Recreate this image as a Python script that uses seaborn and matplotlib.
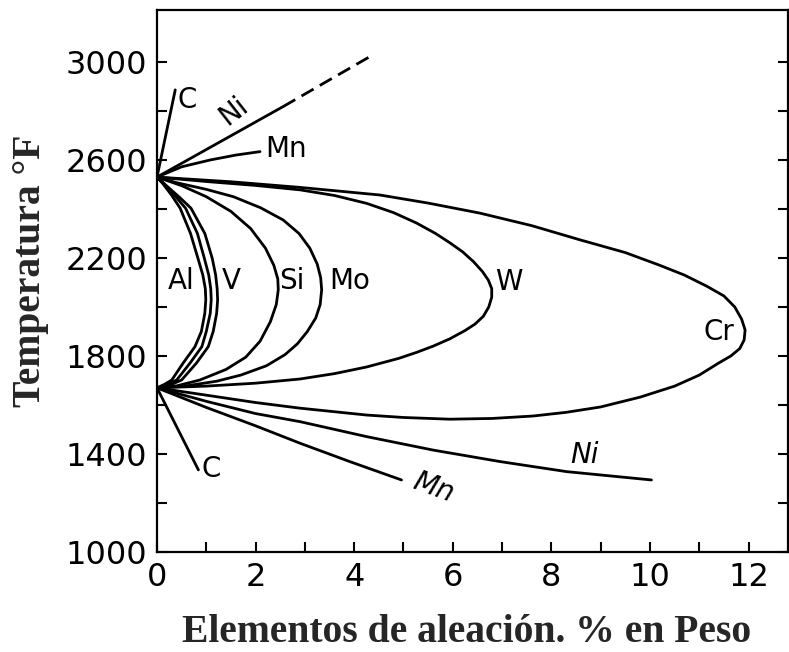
import pandas as pd
import matplotlib
matplotlib.use("Agg")
import matplotlib.pyplot as plt
from matplotlib.ticker import FixedLocator
import seaborn as sns

# Austenite (gamma) field boundaries: alloy content in wt % vs temperature in °F
c_up_x = [0.0, 0.37]
c_up_t = [2530, 2886]

ni_up_x = [0.0, 2.56]
ni_up_t = [2530, 2818]
ni_dash_x = [2.56, 4.32]
ni_dash_t = [2818, 3022]

mn_up_x = [0.0, 0.5, 1.08, 1.6, 2.09]
mn_up_t = [2530, 2572, 2600, 2620, 2634]

al_x = [0.0, 0.12, 0.3, 0.47, 0.68, 0.83, 0.93, 0.98, 0.99, 0.97, 0.9, 0.77, 0.53, 0.3, 0.15, 0.0]
al_t = [2530, 2503, 2455, 2403, 2300, 2199, 2130, 2075, 2030, 1974, 1900, 1838, 1771, 1702, 1684,
        1670]

mid_x = [0.0, 0.15, 0.38, 0.58, 0.82, 0.96, 1.05, 1.09, 1.1, 1.08, 1.0, 0.91, 0.67, 0.4, 0.2, 0.0]
mid_t = [2530, 2500, 2450, 2403, 2300, 2199, 2130, 2075, 2030, 1974, 1900, 1838, 1771, 1702, 1682,
         1670]

v_x = [0.0, 0.18, 0.46, 0.69, 0.97, 1.12, 1.19, 1.22, 1.23, 1.21, 1.14, 1.04, 0.8, 0.5, 0.25, 0.0]
v_t = [2530, 2497, 2447, 2403, 2300, 2199, 2130, 2075, 2030, 1974, 1900, 1838, 1771, 1702, 1680,
       1670]

si_x = [0.0, 0.5, 1.0, 1.5, 1.9, 2.2, 2.37, 2.45, 2.46, 2.42, 2.3, 2.09, 1.8, 1.4, 0.87, 0.4, 0.0]
si_t = [2530, 2495, 2450, 2390, 2320, 2240, 2170, 2115, 2070, 2010, 1940, 1860, 1795, 1745, 1702,
        1678, 1670]

mo_x = [0.0, 0.4, 1.0, 1.55, 2.1, 2.56, 2.88, 3.1, 3.25, 3.32, 3.34, 3.31, 3.22, 3.05, 2.85,
        2.6, 2.22, 1.7, 1.21, 0.53, 0.0]
mo_t = [2530, 2507, 2480, 2450, 2405, 2355, 2300, 2240, 2175, 2120, 2070, 2010, 1955, 1900, 1850,
        1806, 1760, 1722, 1697, 1676, 1670]

w_x = [0.0, 1.0, 2.0, 2.9, 3.6, 4.25, 4.8, 5.27, 5.65, 5.94, 6.2, 6.42, 6.6, 6.72, 6.79, 6.79,
       6.73, 6.62, 6.45, 6.25, 5.94, 5.6, 5.27, 4.9, 4.25, 3.6, 2.9, 2.0, 1.0, 0.0]
w_t = [2530, 2512, 2496, 2478, 2455, 2423, 2385, 2342, 2300, 2262, 2225, 2185, 2145, 2110, 2075,
       2040, 2000, 1962, 1930, 1904, 1870, 1840, 1815, 1790, 1755, 1728, 1706, 1689, 1677, 1670]

cr_x = [0.0, 1.5, 2.9, 4.52, 5.5, 6.55, 7.6, 8.58, 9.5, 10.2, 10.7, 11.15, 11.5, 11.72, 11.86,
        11.93, 11.91, 11.82, 11.64, 11.4, 11.0, 10.5, 9.8, 9.0, 8.3, 7.63, 6.8, 5.94, 5.0, 4.25,
        2.9, 2.0, 1.0, 0.0]
cr_t = [2530, 2511, 2488, 2457, 2424, 2383, 2332, 2274, 2222, 2170, 2130, 2085, 2045, 2000, 1950,
        1906, 1865, 1830, 1800, 1772, 1722, 1677, 1632, 1592, 1570, 1555, 1545, 1542, 1549, 1559,
        1587, 1610, 1640, 1670]

c_lo_x = [0.0, 0.84]
c_lo_t = [1670, 1335]

ni_lo_x = [0.0, 1.0, 2.0, 2.9, 4.25, 5.6, 6.96, 8.31, 10.03]
ni_lo_t = [1670, 1615, 1565, 1532, 1471, 1416, 1369, 1328, 1294]

mn_lo_x = [0.0, 1.0, 2.0, 2.9, 3.91, 4.96]
mn_lo_t = [1670, 1590, 1515, 1444, 1369, 1294]

# axis ticks and labels
x_ticks = [0, 2, 4, 6, 8, 10, 12]
x_minor = [1, 3, 5, 7, 9, 11]
y_ticks = [1000, 1400, 1800, 2200, 2600, 3000]
y_minor = [1200, 1600, 2000, 2400, 2800]

# curve annotations: text, x, T, rotation, style
label_text = ["C", "Ni", "Mn", "Al", "V", "Si", "Mo", "W", "Cr", "C", "Ni", "Mn"]
label_x = [0.62, 1.55, 2.62, 0.48, 1.5, 2.73, 3.9, 7.14, 11.4, 1.1, 8.68, 5.6]
label_t = [2845, 2800, 2645, 2106, 2106, 2106, 2106, 2102, 1898, 1339, 1396, 1262]
label_rot = [0, 38, 0, 0, 0, 0, 0, 0, 0, 0, 0, -20]
label_style = ["normal"] * 10 + ["italic", "italic"]

solid = {
    "C+": (c_up_x, c_up_t), "Ni+": (ni_up_x, ni_up_t), "Mn+": (mn_up_x, mn_up_t),
    "Al": (al_x, al_t), "Al/V": (mid_x, mid_t), "V": (v_x, v_t), "Si": (si_x, si_t),
    "Mo": (mo_x, mo_t), "W": (w_x, w_t), "Cr": (cr_x, cr_t),
    "C-": (c_lo_x, c_lo_t), "Ni-": (ni_lo_x, ni_lo_t), "Mn-": (mn_lo_x, mn_lo_t),
}
rows = []
for name, (xs, ts) in solid.items():
    for i, (xv, tv) in enumerate(zip(xs, ts)):
        rows.append({"curve": name, "order": i, "pct": xv, "temp": tv})
df = pd.DataFrame(rows)
df_dash = pd.DataFrame({"curve": "Ni ext", "pct": ni_dash_x, "temp": ni_dash_t})

sns.set_style("white")
plt.rcParams["font.family"] = ["DejaVu Sans"]
plt.rcParams["lines.solid_joinstyle"] = "round"

W_PX, H_PX, DPI = 789, 652, 100
fig = plt.figure(figsize=(W_PX / DPI, H_PX / DPI), dpi=DPI)
ax = fig.add_axes([157 / W_PX, 100 / H_PX, 631 / W_PX, 542 / H_PX])

sns.lineplot(data=df, x="pct", y="temp", units="curve", estimator=None, sort=False,
             color="black", lw=2.0, ax=ax, legend=False)
sns.lineplot(data=df_dash, x="pct", y="temp", estimator=None, sort=False,
             color="black", lw=2.0, ax=ax, legend=False, linestyle=(0, (5, 2.6)))

for txt, xv, tv, rot, sty in zip(label_text, label_x, label_t, label_rot, label_style):
    ax.text(xv, tv, txt, fontsize=20, ha="center", va="center", rotation=rot,
            style=sty, color="black")

ax.set_xlim(0, 12.8)
ax.set_ylim(1000, 3212)
ax.xaxis.set_major_locator(FixedLocator(x_ticks))
ax.xaxis.set_minor_locator(FixedLocator(x_minor))
ax.yaxis.set_major_locator(FixedLocator(y_ticks))
ax.yaxis.set_minor_locator(FixedLocator(y_minor))
ax.set_xticklabels([str(v) for v in x_ticks])
ax.set_yticklabels([str(v) for v in y_ticks])

for which in ("major", "minor"):
    ax.tick_params(axis="both", which=which, direction="in", length=7.5, width=1.5,
                   color="black", left=True, bottom=True, right=True, top=False)
ax.tick_params(axis="both", which="major", labelsize=23, pad=7, labelcolor="black")

for s in ax.spines.values():
    s.set_visible(True)
    s.set_color("black")
    s.set_linewidth(1.6)

serif = dict(family=["Liberation Serif", "DejaVu Serif"], fontweight="bold", fontsize=28.5)
ax.set_xlabel("Elementos de aleación. % en Peso", va="center", **serif)
ax.set_ylabel("Temperatura °F", va="center", **serif)
ax.xaxis.set_label_coords(0.491, -0.148)
ax.yaxis.set_label_coords(-0.201, 0.518)

fig.savefig("out.png", dpi=DPI, facecolor="white")
